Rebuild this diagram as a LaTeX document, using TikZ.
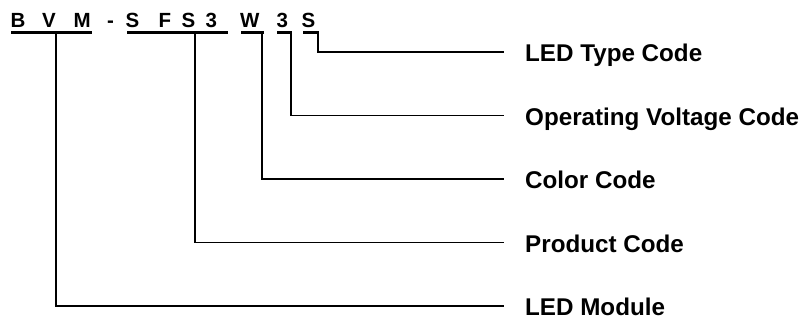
\documentclass[tikz,border=0pt]{standalone}
\usepackage{fontspec}
\setmainfont{Liberation Sans}
\begin{document}
\begin{tikzpicture}[x=1pt,y=-1pt,
  code/.style={font=\fontsize{20.5}{20.5}\bfseries\selectfont, anchor=base west, inner sep=0pt},
  lbl/.style={font=\fontsize{24.2}{24.2}\bfseries\selectfont, anchor=base west, inner sep=0pt},
  ul/.style={line width=3pt},
  conn/.style={line width=1.3pt}]
\useasboundingbox (0,0) rectangle (803,320);
% code letters
\node[code] (c1) at (10.5,27.5) {B};
\node[code] (c2) at (42,27.5) {V};
\node[code] (c3) at (73.5,27.5) {M};
\node[code] (c4) at (107,27.5) {-};
\node[code] (c5) at (125.5,27.5) {S};
\node[code] (c6) at (158.5,27.5) {F};
\node[code] (c7) at (181.5,27.5) {S};
\node[code] (c8) at (205.5,27.5) {3};
\node[code] (c9) at (240,27.5) {W};
\node[code] (c10) at (276.5,27.5) {3};
\node[code] (c11) at (301.5,27.5) {S};
% underlines
\coordinate (u1a) at (11,32.5); \coordinate (u1b) at (92,32.5);
\coordinate (u2a) at (127,32.5); \coordinate (u2b) at (228,32.5);
\coordinate (u3a) at (241,32.5); \coordinate (u3b) at (264,32.5);
\coordinate (u4a) at (277,32.5); \coordinate (u4b) at (292,32.5);
\coordinate (u5a) at (303,32.5); \coordinate (u5b) at (319,32.5);
\draw[ul] (u1a) -- (u1b);
\draw[ul] (u2a) -- (u2b);
\draw[ul] (u3a) -- (u3b);
\draw[ul] (u4a) -- (u4b);
\draw[ul] (u5a) -- (u5b);
% labels
\node[lbl] (l1) at (525,62) {LED Type Code};
\node[lbl] (l2) at (525,125.5) {Operating Voltage Code};
\node[lbl] (l3) at (525,189) {Color Code};
\node[lbl] (l4) at (525,252.5) {Product Code};
\node[lbl] (l5) at (525,316) {LED Module};
% connector points
\coordinate (s1) at (318,34); \coordinate (e1) at (504,52);
\coordinate (s2) at (291,34); \coordinate (e2) at (504,115.5);
\coordinate (s3) at (262,34); \coordinate (e3) at (504,179);
\coordinate (s4) at (195,34); \coordinate (e4) at (504,242.5);
\coordinate (s5) at (56,34);  \coordinate (e5) at (504,306);
\draw[conn] (s1) |- (e1);
\draw[conn] (s2) |- (e2);
\draw[conn] (s3) |- (e3);
\draw[conn] (s4) |- (e4);
\draw[conn] (s5) |- (e5);
\end{tikzpicture}
\end{document}
